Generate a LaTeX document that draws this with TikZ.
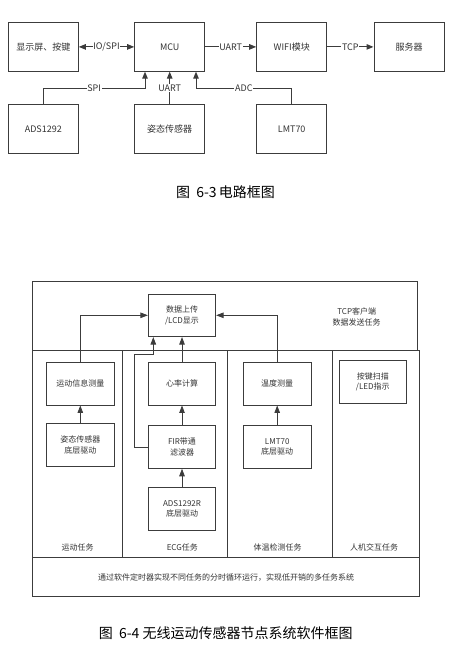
\documentclass[tikz,border=0pt]{standalone}
\usepackage{fontspec}
\setmainfont{Noto Sans CJK SC}
\usetikzlibrary{arrows.meta}

\definecolor{linegray}{HTML}{3C3C3C}
\definecolor{textgray}{HTML}{333333}

\begin{document}
\begin{tikzpicture}[x=1pt, y=-1pt,
    box/.style={draw=linegray, line width=1pt, minimum width=70pt, minimum height=48.5pt, font=\fontsize{9}{11}\selectfont, text=textgray},
    sbox/.style={draw=linegray, line width=0.8pt, minimum width=67.4pt, minimum height=42.7pt, align=center, font=\fontsize{8}{10.5}\selectfont, text=textgray},
    arr/.style={draw=linegray, line width=1pt, -{Triangle[length=7pt,width=5.5pt]}},
    sarr/.style={draw=linegray, line width=0.8pt, -{Triangle[length=7.5pt,width=5.5pt]}},
    lbl/.style={fill=white, inner sep=0.8pt, font=\fontsize{9}{11}\selectfont, text=textgray},
    txt/.style={font=\fontsize{8}{10.5}\selectfont, text=textgray, align=center},
    caption/.style={font=\fontsize{14}{16}\selectfont, text=black}
]
    \useasboundingbox (0,0) rectangle (470,652);

    % ---- Circuit block diagram ----
    % Upper row of blocks
    \node[box] (disp) at (43.3,46.9) {显示屏、按键};
    \node[box] (mcu) at (169.7,46.9) {MCU};
    \node[box] (wifi) at (291.7,46.9) {WIFI模块};
    \node[box] (server) at (409,46.9) {服务器};

    % Lower row of blocks
    \node[box] (ads) at (43.3,129) {ADS1292};
    \node[box] (attitude) at (169.7,129) {姿态传感器};
    \node[box] (lmt) at (291.7,129) {LMT70};

    % Horizontal links
    \draw[arr, {Triangle[length=7pt,width=5.5pt]}-{Triangle[length=7pt,width=5.5pt]}] (disp) -- node[lbl] {IO/SPI} (mcu);
    \draw[arr] (mcu) -- node[lbl] {UART} (wifi);
    \draw[arr] (wifi) -- node[lbl] {TCP} (server);

    % Sensor links into the MCU
    \coordinate (bus) at (0,88.3);
    \draw[arr] (ads.north) -- (ads.north |- bus) -| node[lbl, pos=0.25] {SPI} ([xshift=-24.7pt]mcu.south);
    \draw[arr] (attitude) -- node[lbl] {UART} (mcu);
    \draw[arr] (lmt.north) -- (lmt.north |- bus) -| node[lbl, pos=0.25] {ADC} ([xshift=26.3pt]mcu.south);

    \node[caption] (cap1) at (225.5,191.7) {图\ \ 6-3\,电路框图};

    % ---- Software block diagram ----
    % Task frames
    \draw[linegray, line width=0.8pt] (32.7,281) rectangle (417.3,350);
    \draw[linegray, line width=0.8pt] (32.7,350) rectangle (122.7,557.7);
    \draw[linegray, line width=0.8pt] (122.7,350) rectangle (227.3,557.7);
    \draw[linegray, line width=0.8pt] (227.3,350) rectangle (332,557.7);
    \draw[linegray, line width=0.8pt] (332,350) rectangle (419,557.7);
    \draw[linegray, line width=0.8pt] (32.7,557.7) rectangle (419,596.7);

    % Blocks inside the tasks
    \node[sbox] (upload) at (182,315.3) {数据上传\\/LCD显示};
    \node[sbox] (motion) at (80.3,383.7) {运动信息测量};
    \node[sbox] (attdrv) at (80.3,445) {姿态传感器\\底层驱动};
    \node[sbox] (heart) at (182,383.7) {心率计算};
    \node[sbox] (fir) at (182,447) {FIR带通\\滤波器};
    \node[sbox] (adsdrv) at (182,508.7) {ADS1292R\\底层驱动};
    \node[sbox] (temp) at (277.2,383.7) {温度测量};
    \node[sbox] (lmtdrv) at (277.2,447) {LMT70\\底层驱动};
    \node[sbox] (keys) at (372.8,382) {按键扫描\\/LED指示};

    % Data flow
    \draw[sarr] (attdrv) -- (motion);
    \draw[sarr] (adsdrv) -- (fir);
    \draw[sarr] (fir) -- (heart);
    \draw[sarr] (lmtdrv) -- (temp);
    \draw[sarr] (heart) -- (upload);
    \draw[sarr] (motion.north) |- (upload.west);
    \draw[sarr] (temp.north) |- (upload.east);
    \draw[sarr] (fir.west) -| (134.3,354.3) -| ([xshift=-28.7pt]upload.south);

    % Task names
    \node[txt] (tcptask) at (356.7,316.7) {TCP客户端\\数据发送任务};
    \node[txt] (motiontask) at (77.7,547.7) {运动任务};
    \node[txt] (ecgtask) at (182.3,547.7) {ECG任务};
    \node[txt] (temptask) at (277.7,547.7) {体温检测任务};
    \node[txt] (hmitask) at (374,547.7) {人机交互任务};
    \node[txt] (sched) at (226,577.7) {通过软件定时器实现不同任务的分时循环运行，实现低开销的多任务系统};

    \node[caption] (cap2) at (225.7,633.3) {图\ \ 6-4 无线运动传感器节点系统软件框图};

\end{tikzpicture}
\end{document}
